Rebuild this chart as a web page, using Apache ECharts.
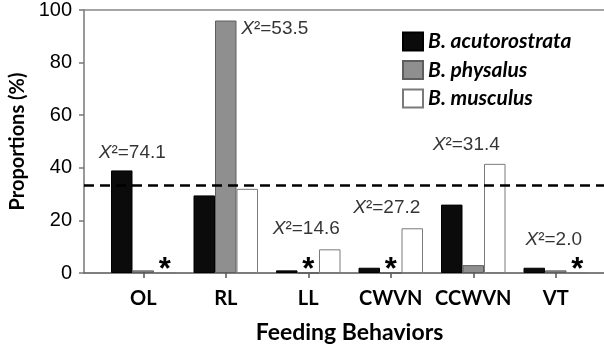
<!DOCTYPE html>
<html><head><meta charset="utf-8">
<script src="https://cdn.jsdelivr.net/npm/echarts@6/dist/echarts.min.js"></script>
<style>html,body{margin:0;padding:0;background:#fff}#c{width:604px;height:345px}</style>
</head><body><div id="c"></div>
<script>
// ---- data ----
const categories = ['OL', 'RL', 'LL', 'CWVN', 'CCWVN', 'VT'];
const seriesNames = ['B. acutorostrata', 'B. physalus', 'B. musculus'];
const acutorostrata = [39, 29.5, 1, 2, 26, 2];
const physalus = [1, 96, 0, 0, 3, 1];
const musculus = [0, 32, 9, 17, 41.5, 0];
const chiSquare = ['74.1', '53.5', '14.6', '27.2', '31.4', '2.0'];
const expectedProportion = 33.3;
const yTicks = [0, 20, 40, 60, 80, 100];

// ---- annotation layout (positions, not data) ----
const annotY = [45.8, 92.7, 16.8, 24.8, 48.9, 12.6];
const annotDx = [-11, 49, -2, -4, -7, -2];

const chart = echarts.init(document.getElementById('c'), null, {renderer: 'canvas'});
const TOP = 10, BOTTOM = 72;
const sansTitle = 'Lato, "Open Sans", sans-serif';
const sansNum = '"Liberation Sans", Arial, sans-serif';

function barSeries(name, data, color, border) {
  return {
    name, type: 'bar', xAxisIndex: 0, yAxisIndex: 0,
    data, barWidth: 21.5, barGap: '0%',
    itemStyle: {color, borderColor: border, borderWidth: 1},
    label: {
      show: true, position: 'top', distance: -13,
      formatter: p => (p.value === 0 ? '*' : ''),
      color: '#000', fontFamily: sansNum, fontWeight: 'bold', fontSize: 31
    },
    emphasis: {disabled: true}
  };
}

chart.setOption({
  animation: false,
  backgroundColor: '#fff',
  grid: [
    {left: 102, right: 7, top: TOP, bottom: BOTTOM, outerBoundsMode: 'none', containLabel: false},
    {left: 84, right: 0, top: TOP, bottom: BOTTOM, outerBoundsMode: 'none', containLabel: false}
  ],
  legend: {
    orient: 'vertical', left: 397, top: 26,
    itemWidth: 20, itemHeight: 18, itemGap: 7.5,
    icon: 'rect',
    data: seriesNames,
    textStyle: {fontFamily: sansTitle, fontWeight: 'bold', fontStyle: 'italic', fontSize: 21, lineHeight: 18, color: '#000'},
    selectedMode: false
  },
  xAxis: [
    {
      type: 'category', gridIndex: 0, data: categories,
      axisLine: {show: false},
      axisTick: {show: true, alignWithLabel: true, length: 5, lineStyle: {color: '#555', width: 1.5}},
      axisLabel: {interval: 0, margin: 16, fontFamily: sansTitle, fontWeight: 'bold', fontSize: 20, color: '#000'},
      name: 'Feeding Behaviors', nameLocation: 'middle', nameGap: 48,
      nameTextStyle: {fontFamily: sansTitle, fontWeight: 'bold', fontSize: 23, color: '#000'}
    },
    {
      type: 'value', gridIndex: 1, position: 'bottom', min: 0, max: 1,
      axisLine: {show: true, lineStyle: {color: '#555', width: 1.5}},
      axisTick: {show: false}, axisLabel: {show: false}, splitLine: {show: false}
    },
    {
      type: 'value', gridIndex: 1, position: 'top', min: 0, max: 1,
      axisLine: {show: true, onZero: false, lineStyle: {color: '#888', width: 1.5}},
      axisTick: {show: false}, axisLabel: {show: false}, splitLine: {show: false}
    }
  ],
  yAxis: [
    {type: 'value', gridIndex: 0, min: 0, max: 100, show: false, splitLine: {show: false}},
    {
      type: 'value', gridIndex: 1, min: yTicks[0], max: yTicks[yTicks.length - 1], interval: 20,
      axisLine: {show: true, lineStyle: {color: '#777', width: 1.5}},
      axisTick: {show: true, length: 5, lineStyle: {color: '#777', width: 1.5}},
      axisLabel: {margin: 12, fontFamily: sansNum, fontSize: 20, color: '#000'},
      splitLine: {show: false},
      name: 'Proportions (%)', nameLocation: 'middle', nameGap: 51, nameRotate: 90,
      nameTextStyle: {fontFamily: sansTitle, fontWeight: 'bold', fontSize: 20, color: '#000'}
    }
  ],
  series: [
    barSeries(seriesNames[0], acutorostrata, '#0b0b0b', '#000'),
    barSeries(seriesNames[1], physalus, '#8f8f8f', '#5e5e5e'),
    barSeries(seriesNames[2], musculus, '#ffffff', '#7a7a7a'),
    {
      type: 'scatter', xAxisIndex: 1, yAxisIndex: 1, data: [], symbolSize: 0,
      silent: true,
      markLine: {
        silent: true, symbol: ['none', 'none'], label: {show: false},
        lineStyle: {color: '#000', type: [10, 6], width: 2.5},
        data: [{yAxis: expectedProportion}]
      }
    },
    {
      type: 'scatter', xAxisIndex: 0, yAxisIndex: 0, symbolSize: 0, silent: true,
      data: chiSquare.map((v, i) => ({
        value: [i, annotY[i]],
        label: {offset: [annotDx[i], 0]}
      })),
      label: {
        show: true, position: 'inside',
        formatter: p => '{i|X}{n|²=' + chiSquare[p.dataIndex] + '}',
        rich: {
          i: {fontFamily: sansNum, fontStyle: 'italic', fontSize: 19, color: '#000'},
          n: {fontFamily: sansNum, fontSize: 19, color: '#000'}
        }
      }
    }
  ]
});
</script></body></html>
